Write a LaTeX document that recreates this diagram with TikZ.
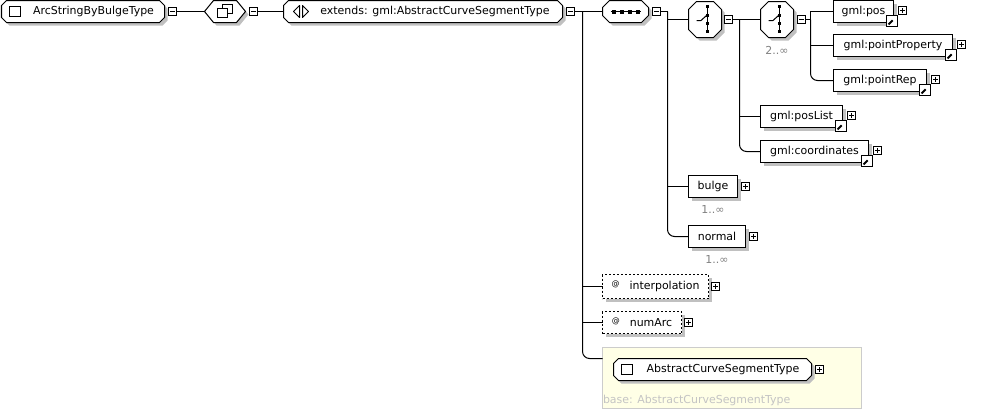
\documentclass[tikz,border=0pt]{standalone}
\usepackage{fontspec}
\setmainfont{DejaVu Sans}
\usepackage{tikz}
\usetikzlibrary{positioning, shadows}

\definecolor{shadowgray}{RGB}{192,192,192}
\definecolor{occgray}{RGB}{128,128,128}
\definecolor{baseyellow}{RGB}{255,255,230}
\definecolor{baseborder}{RGB}{204,204,204}
\definecolor{basetext}{RGB}{196,196,196}

% Khung vát góc có bóng: #1 nút, #2 vát ngang, #3 vát dọc
\newcommand{\bevel}[3]{%
    \fill[shadowgray] ([xshift=#2+3bp,yshift=-3bp]#1.north west) -- ([xshift=-#2+3bp,yshift=-3bp]#1.north east)
        -- ([xshift=3bp,yshift=-#3-3bp]#1.north east) -- ([xshift=3bp,yshift=#3-3bp]#1.south east)
        -- ([xshift=-#2+3bp,yshift=-3bp]#1.south east) -- ([xshift=#2+3bp,yshift=-3bp]#1.south west)
        -- ([xshift=3bp,yshift=#3-3bp]#1.south west) -- ([xshift=3bp,yshift=-#3-3bp]#1.north west) -- cycle;
    \filldraw[draw=black, fill=white] ([xshift=#2]#1.north west) -- ([xshift=-#2]#1.north east)
        -- ([yshift=-#3]#1.north east) -- ([yshift=#3]#1.south east)
        -- ([xshift=-#2]#1.south east) -- ([xshift=#2]#1.south west)
        -- ([yshift=#3]#1.south west) -- ([yshift=-#3]#1.north west) -- cycle;}

\tikzset{
    nodetext/.style={font=\fontsize{11}{13}\selectfont},
    shadowed/.style={drop shadow={shadow xshift=3bp, shadow yshift=-3bp, fill=shadowgray, opacity=1}},
    ctype/.style={rectangle, anchor=west, inner sep=0bp, minimum height=22bp},
    choicebox/.style={ctype, minimum width=33bp, minimum height=36bp},
    elem/.style={rectangle, draw, fill=white, shadowed, nodetext, anchor=west, inner sep=0bp, minimum height=22bp},
    attr/.style={elem, dash pattern=on 2bp off 2bp, minimum height=24bp},
    basebox/.style={draw=baseborder, fill=baseyellow, anchor=north west, inner sep=0bp},
    pmbox/.style={draw, fill=white, minimum size=8bp, inner sep=0bp},
    minusbox/.style={pmbox, path picture={
        \draw ([xshift=-2.5bp]path picture bounding box.center) -- ([xshift=2.5bp]path picture bounding box.center);}},
    plusbox/.style={pmbox, path picture={
        \draw ([xshift=-2.5bp]path picture bounding box.center) -- ([xshift=2.5bp]path picture bounding box.center);
        \draw ([yshift=-2.5bp]path picture bounding box.center) -- ([yshift=2.5bp]path picture bounding box.center);}},
    refarrow/.style={draw, fill=white, minimum size=11bp, inner sep=0bp, path picture={
        \draw[line width=2bp] ([shift={(-3.5bp,-3.5bp)}]path picture bounding box.center) -- ([shift={(1bp,1bp)}]path picture bounding box.center);
        \fill ([shift={(3.5bp,3.5bp)}]path picture bounding box.center) -- ([shift={(-2bp,3.5bp)}]path picture bounding box.center)
            -- ([shift={(3.5bp,-2bp)}]path picture bounding box.center) -- cycle;}},
    occurs/.style={nodetext, text=occgray, inner sep=0bp},
}

\begin{document}
\begin{tikzpicture}[x=1bp, y=-1bp, line width=1bp, every node/.style={outer sep=0bp}]
    \useasboundingbox (0,0) rectangle (993,410);

    % Hàng trên cùng
    \node[ctype, minimum width=163bp] (root) at (1.5,11.5) {};
    \bevel{root}{5bp}{5bp}
    \node[nodetext] (roottxt) at (root.center) {\hspace*{21bp}ArcStringByBulgeType};
    \node[minusbox, right=4bp of root] (rootm) {};
    \node[ctype, minimum width=41bp] (cc) at (204.5,11.5) {};
    \bevel{cc}{9bp}{11bp}
    \node[minusbox, right=4bp of cc] (ccm) {};
    \node[ctype, minimum width=279bp] (ext) at (283.5,11.5) {};
    \bevel{ext}{5bp}{5bp}
    \node[nodetext] (exttxt) at (ext.center) {\hspace*{24bp}extends: gml:AbstractCurveSegmentType};
    \node[minusbox, right=4bp of ext] (extm) {};
    \node[ctype, minimum width=46bp] (seq) at (602.5,11.5) {};
    \bevel{seq}{7bp}{7bp}
    \node[minusbox, right=4bp of seq] (seqm) {};

    % Hai nhóm choice
    \node[choicebox] (ch1) at (688.5,19.5) {};
    \bevel{ch1}{8bp}{8bp}
    \node[minusbox, right=3bp of ch1] (ch1m) {};
    \node[choicebox] (ch2) at (760.5,19.5) {};
    \bevel{ch2}{8bp}{8bp}
    \node[minusbox, right=4bp of ch2] (ch2m) {};
    \node[occurs, below=9bp of ch2] (ch2occ) {2..∞};

    % Các phần tử gml
    \node[elem, minimum width=60bp] (pos) at (833.5,11.5) {gml:pos};
    \node[refarrow] (posarr) at ([xshift=-1.5bp,yshift=1.5bp]pos.south east) {};
    \node[plusbox, right=5bp of pos, yshift=1bp] (posp) {};
    \node[elem, minimum width=119bp] (pprop) at (833.5,45.5) {gml:pointProperty};
    \node[refarrow] (pproparr) at ([xshift=-1.5bp,yshift=1.5bp]pprop.south east) {};
    \node[plusbox, right=5bp of pprop, yshift=1bp] (pprpp) {};
    \node[elem, minimum width=93bp] (prep) at (833.5,80.5) {gml:pointRep};
    \node[refarrow] (preparr) at ([xshift=-1.5bp,yshift=1.5bp]prep.south east) {};
    \node[plusbox, right=5bp of prep, yshift=1bp] (prepp) {};
    \node[elem, minimum width=82bp] (plist) at (760.5,116.5) {gml:posList};
    \node[refarrow] (plistarr) at ([xshift=-1.5bp,yshift=1.5bp]plist.south east) {};
    \node[plusbox, right=5bp of plist, yshift=1bp] (plistp) {};
    \node[elem, minimum width=108bp] (coords) at (760.5,151.5) {gml:coordinates};
    \node[refarrow] (coordsarr) at ([xshift=-1.5bp,yshift=1.5bp]coords.south east) {};
    \node[plusbox, right=5bp of coords, yshift=1bp] (coordsp) {};

    % bulge và normal
    \node[elem, minimum width=49bp] (bulge) at (688.5,186.5) {bulge};
    \node[plusbox, right=4bp of bulge] (bulgep) {};
    \node[occurs, below=8bp of bulge] (bulgeocc) {1..∞};
    \node[elem, minimum width=57bp] (normal) at (688.5,236.5) {normal};
    \node[plusbox, right=4bp of normal] (normalp) {};
    \node[occurs, below=8bp of normal] (normalocc) {1..∞};

    % Thuộc tính
    \node[attr, minimum width=106bp] (interp) at (602.5,286.5) {\raisebox{3bp}{\fontsize{8}{8}\selectfont @}\hspace{10bp}interpolation};
    \node[plusbox, right=3bp of interp] (interpp) {};
    \node[attr, minimum width=79bp, minimum height=22bp] (numarc) at (602.5,322.5) {\raisebox{3bp}{\fontsize{8}{8}\selectfont @}\hspace{10bp}numArc};
    \node[plusbox, right=3bp of numarc] (numarcp) {};

    % Khung kiểu cơ sở
    \node[basebox, minimum width=259bp, minimum height=61bp] (base) at (602.5,347.5) {};
    \node[ctype, minimum width=198bp] (acst) at (613.5,369.5) {};
    \bevel{acst}{5bp}{5bp}
    \node[nodetext] (acsttxt) at (acst.center) {\hspace*{21bp}AbstractCurveSegmentType};
    \node[plusbox, right=4bp of acst] (acstp) {};
    \node[nodetext, text=basetext, anchor=west, inner sep=0bp] (basetxt) at (603,400) {base: AbstractCurveSegmentType};

    % Biểu tượng trong các nút
    \draw[fill=white] ([shift={(8,-5)}]root.west) rectangle ([shift={(19,5)}]root.west);
    \draw[fill=white] ([shift={(8,-5)}]acst.west) rectangle ([shift={(19,5)}]acst.west);
    \draw[fill=white] ([shift={(-2.5,-7)}]cc.center) rectangle ([shift={(7.5,2)}]cc.center);
    \draw[fill=white] ([shift={(-7.5,-3)}]cc.center) rectangle ([shift={(2.5,6)}]cc.center);
    \draw[line join=round] ([shift={(16,-6)}]ext.west) -- ([shift={(10,0)}]ext.west) -- ([shift={(16,6)}]ext.west) -- cycle;
    \draw[line join=round] ([shift={(19,-6)}]ext.west) -- ([shift={(25,0)}]ext.west) -- ([shift={(19,6)}]ext.west) -- cycle;
    \draw ([shift={(-15,0)}]seq.center) -- ([shift={(15,0)}]seq.center);
    \foreach \dx in {-12,-4,4,12}
        \fill ([shift={(\dx-2,-2)}]seq.center) rectangle ([shift={(\dx+2,2)}]seq.center);
    \foreach \c in {ch1,ch2} {
        \draw ([shift={(2.5,-13)}]\c.center) -- ([shift={(2.5,12)}]\c.center);
        \foreach \dy in {-13,-4,4,12}
            \fill ([shift={(1,\dy-1.5)}]\c.center) rectangle ([shift={(4,\dy+1.5)}]\c.center);
        \draw ([shift={(-8.5,1)}]\c.center) -- ([shift={(-4,1)}]\c.center) -- ([shift={(1.5,-4)}]\c.center);
    }

    % Đường nối
    \draw (rootm) -- (cc);
    \draw (ccm) -- (ext);
    \draw (extm) -- (seq);
    \coordinate (ebus) at ([xshift=8bp]extm.east);
    \draw[rounded corners=7bp] (ebus) |- ([yshift=-11bp]base.north west);
    \draw (ebus |- interp.west) -- (interp.west);
    \draw (ebus |- numarc.west) -- (numarc.west);

    \coordinate (sbus) at ([xshift=7bp]seqm.east);
    \draw (seqm) -- (sbus);
    \draw[rounded corners=7bp] (sbus) |- (normal.west);
    \draw (sbus |- ch1.west) -- (ch1.west);
    \draw (sbus |- bulge.west) -- (bulge.west);

    \coordinate (c1bus) at ([xshift=7bp]ch1m.east);
    \draw (ch1m) -- (ch2);
    \draw[rounded corners=7bp] (c1bus) |- (coords.west);
    \draw (c1bus |- plist.west) -- (plist.west);

    \coordinate (c2bus) at ([xshift=5bp]ch2m.east);
    \draw (ch2m) -- (c2bus);
    \draw (pos.west) -| (c2bus);
    \draw[rounded corners=7bp] (c2bus) |- (prep.west);
    \draw (c2bus |- pprop.west) -- (pprop.west);
\end{tikzpicture}
\end{document}
